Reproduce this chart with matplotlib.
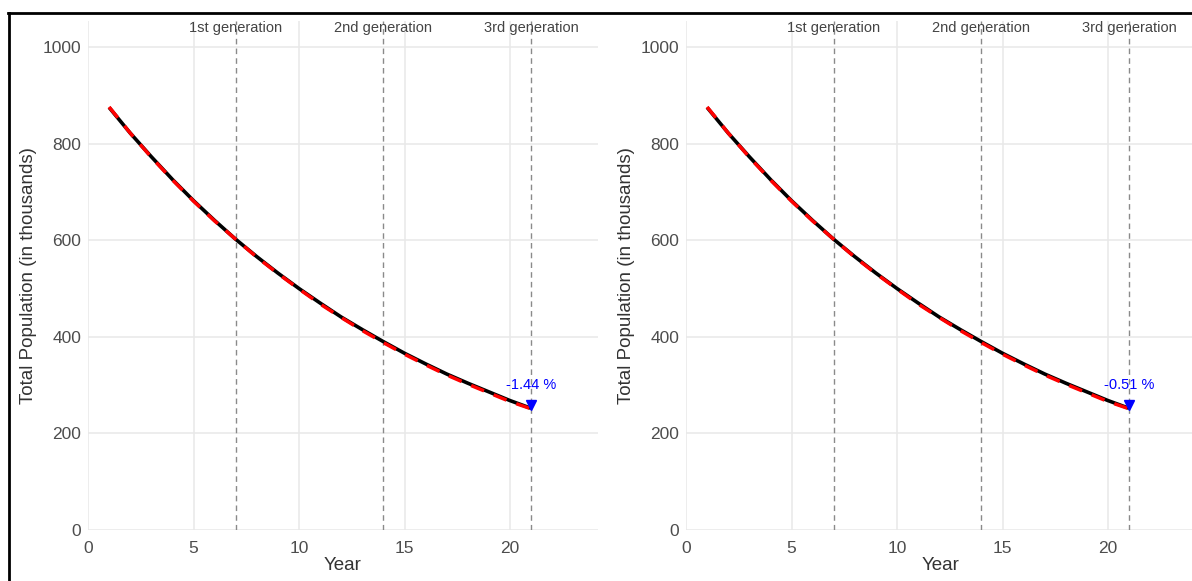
import matplotlib
matplotlib.use('Agg')

import matplotlib.pyplot as plt
from matplotlib.lines import Line2D

plt.rcParams['font.family'] = ['Liberation Sans', 'DejaVu Sans']

# data
years = list(range(1, 22))
pop_model = [875, 822, 773, 726, 682, 641, 602, 566, 532, 500, 470,
             441, 415, 390, 366, 344, 323, 304, 286, 268, 252]
pop_obs = [876, 822, 772, 725, 681, 640, 602, 565, 531, 499, 468,
           440, 413, 388, 364, 342, 321, 302, 284, 266, 251]
gen_years = [7, 14, 21]
gen_labels = ["1st generation", "2nd generation", "3rd generation"]
change_labels = ["-1.44 %", "-0.51 %"]

W, H = 1192, 581
fig = plt.figure(figsize=(W / 100, H / 100), dpi=100)

panels = [(88, 598), (686, 1196)]
top, bottom = 21, 530

tick_col = '#4d4d4d'
grid_col = '#e8e8e8'

for (x0, x1), lab in zip(panels, change_labels):
    ax = fig.add_axes([x0 / W, (H - bottom) / H, (x1 - x0) / W, (bottom - top) / H])
    ax.set_xlim(0, 24.17)
    ax.set_ylim(0, 1054)
    ax.set_xticks([0, 5, 10, 15, 20])
    ax.set_yticks([0, 200, 400, 600, 800, 1000])
    ax.grid(True, color=grid_col, lw=1.1)
    ax.set_axisbelow(True)
    for s in ax.spines.values():
        s.set_visible(False)
    ax.tick_params(length=0, labelsize=12.5, labelcolor=tick_col, pad=5)
    ax.tick_params(axis='x', pad=8)
    ax.set_xlabel("Year", fontsize=13.5, color='#333333', labelpad=1)
    ax.set_ylabel("Total Population (in thousands)", fontsize=13.5, color='#333333', labelpad=4)

    for gx, gl in zip(gen_years, gen_labels):
        ax.axvline(gx, color='#8a8a8a', lw=1, ls=(0, (4, 3)))
        ax.text(gx, 1039, gl, ha='center', va='center', fontsize=10.5,
                color='#444444', clip_on=False)

    ax.plot(years, pop_model, color='black', lw=2.6, solid_capstyle='butt', zorder=3)
    ax.plot(years, pop_obs, color='red', lw=2.5, ls=(0, (4, 3)), zorder=4)
    ax.plot(years[-1], pop_obs[-1] + 8, marker='v', color='blue', ms=7, zorder=5)
    ax.text(years[-1], pop_obs[-1] + 50, lab, ha='center', va='center',
            fontsize=10.5, color='blue', zorder=6)

# black frame around the figure
fig.add_artist(Line2D([8.5 / W, 8.5 / W], [0, 1 - 12.5 / H], color='black', lw=2,
                      transform=fig.transFigure))
fig.add_artist(Line2D([8 / W, 1], [1 - 12.5 / H, 1 - 12.5 / H], color='black', lw=2,
                      transform=fig.transFigure))

fig.savefig('out.png', dpi=100, facecolor='white')
